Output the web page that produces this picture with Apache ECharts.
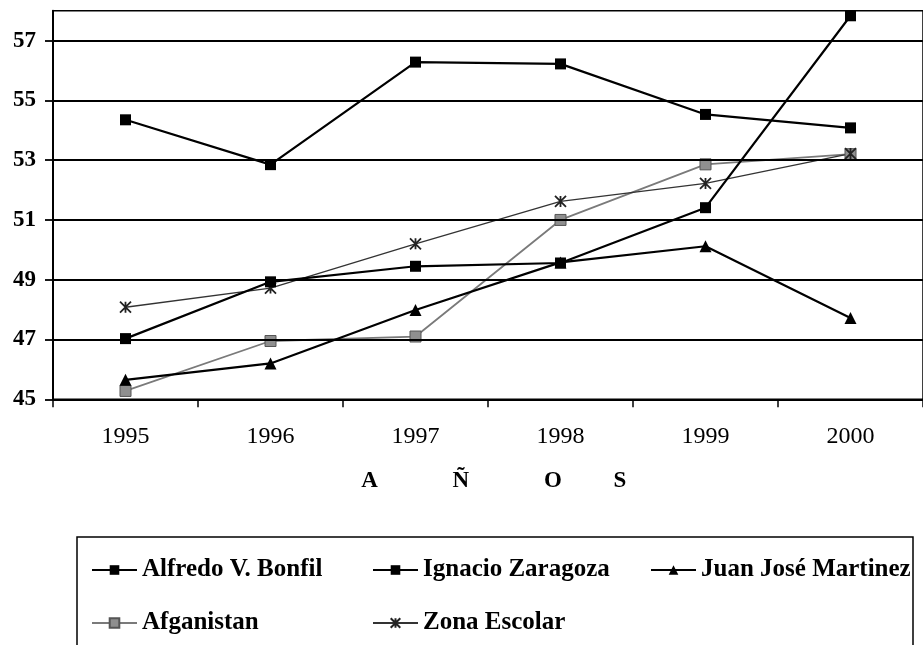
<!DOCTYPE html>
<html>
<head>
<meta charset="utf-8">
<script src="https://cdn.jsdelivr.net/npm/echarts@6/dist/echarts.min.js"></script>
<style>
html,body{margin:0;padding:0;background:#fff;}
#chart{width:923px;height:645px;}
</style>
</head>
<body>
<div id="chart"></div>
<script>
var years = ['1995', '1996', '1997', '1998', '1999', '2000'];
var yTicks = [45, 47, 49, 51, 53, 55, 57];
var gridValues = [47, 49, 51, 53, 55, 57];
var alfredo = [54.35, 52.85, 56.28, 56.22, 54.53, 54.08];
var ignacio = [47.03, 48.93, 49.45, 49.56, 51.41, 57.83];
var juan = [45.65, 46.2, 47.99, 49.58, 50.12, 47.72];
var afganistan = [45.28, 46.95, 47.1, 51.0, 52.86, 53.2];
var zona = [48.08, 48.72, 50.2, 51.62, 52.22, 53.22];
var seriesNames = ['Alfredo V. Bonfil', 'Ignacio Zaragoza', 'Juan José Martinez', 'Afganistan', 'Zona Escolar'];
var axisTitle = '  A             Ñ             O         S';

var FONT = 'Liberation Serif';
var chart = echarts.init(document.getElementById('chart'), null, {renderer: 'canvas'});

var starPath = 'path://M0,0 L10,10 M10,0 L0,10 M5,0 L5,10';

function legendCfg(left, names) {
  return {
    orient: 'vertical',
    left: left,
    top: 552,
    itemWidth: 45,
    itemHeight: 12,
    itemGap: 27,
    data: names,
    textStyle: {fontFamily: FONT, fontSize: 25, fontWeight: 'bold', color: '#000', lineHeight: 26},
    inactiveColor: '#000'
  };
}

var option = {
  backgroundColor: '#fff',
  animation: false,
  grid: {
    left: 53, right: -9, top: 10.7, bottom: 245.7,
    show: true, borderColor: '#000', borderWidth: 1.5, backgroundColor: '#fff'
  },
  legend: [
    legendCfg(86, [seriesNames[0], seriesNames[3]]),
    legendCfg(367, [seriesNames[1], seriesNames[4]]),
    legendCfg(645, [seriesNames[2]])
  ],
  graphic: [{
    type: 'rect',
    shape: {x: 77, y: 537, width: 836, height: 140},
    style: {fill: 'none', stroke: '#000', lineWidth: 1.5},
    z: -1
  }],
  xAxis: {
    type: 'category',
    data: years,
    boundaryGap: true,
    axisLine: {lineStyle: {color: '#000', width: 2}},
    axisTick: {show: true, inside: false, length: 8, lineStyle: {color: '#000', width: 1.5}},
    axisLabel: {fontFamily: FONT, fontSize: 24, color: '#000', margin: 25},
    name: axisTitle,
    nameLocation: 'middle',
    nameGap: 70,
    nameTextStyle: {fontFamily: FONT, fontSize: 23, fontWeight: 'bold', color: '#000'}
  },
  yAxis: {
    type: 'value',
    min: 45, max: 58, interval: 1,
    axisLine: {show: true, lineStyle: {color: '#000', width: 2}},
    axisTick: {show: true, inside: false, length: 8, customValues: yTicks, lineStyle: {color: '#000', width: 1.8}},
    axisLabel: {
      fontFamily: FONT, fontSize: 23, fontWeight: 'bold', color: '#000', margin: 17,
      customValues: yTicks,
      formatter: function (v) { return yTicks.indexOf(v) >= 0 ? String(v) : ''; }
    },
    splitLine: {show: false}
  },
  series: [
    {
      name: '__grid', type: 'line', data: [], z: 1, silent: true,
      markLine: {
        silent: true, symbol: ['none', 'none'],
        label: {show: false},
        lineStyle: {color: '#000', width: 1.8, type: 'solid'},
        data: gridValues.map(function (v) { return {yAxis: v}; })
      }
    },
    {
      name: seriesNames[0], type: 'line', data: alfredo, z: 5,
      symbol: 'rect', symbolSize: 11,
      lineStyle: {color: '#000', width: 2.2}, itemStyle: {color: '#000'}
    },
    {
      name: seriesNames[1], type: 'line', data: ignacio, z: 5,
      symbol: 'rect', symbolSize: 11,
      lineStyle: {color: '#000', width: 2.2}, itemStyle: {color: '#000'}
    },
    {
      name: seriesNames[2], type: 'line', data: juan, z: 5,
      symbol: 'triangle', symbolSize: 12,
      lineStyle: {color: '#000', width: 2.2}, itemStyle: {color: '#000'}
    },
    {
      name: seriesNames[3], type: 'line', data: afganistan, z: 4,
      symbol: 'rect', symbolSize: 11,
      lineStyle: {color: '#7a7a7a', width: 1.8},
      itemStyle: {color: '#8f8f8f', borderColor: '#555', borderWidth: 1}
    },
    {
      name: seriesNames[4], type: 'line', data: zona, z: 4,
      symbol: starPath, symbolSize: 11,
      lineStyle: {color: '#333', width: 1.3},
      itemStyle: {color: 'rgba(0,0,0,0)', borderColor: '#222', borderWidth: 1.8}
    }
  ]
};
chart.setOption(option);
</script>
</body>
</html>
